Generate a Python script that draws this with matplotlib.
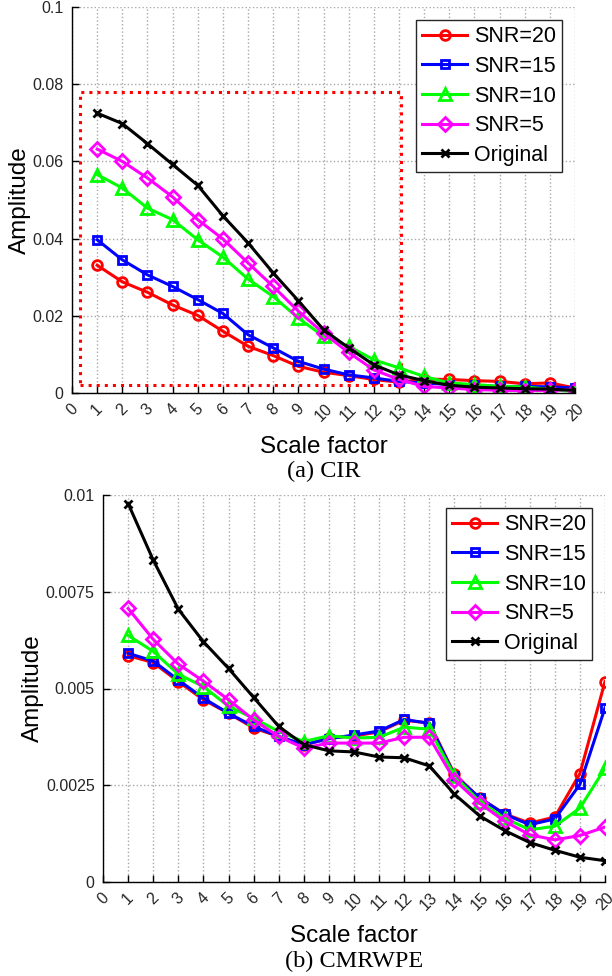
import matplotlib
matplotlib.use('Agg')
import matplotlib.pyplot as plt
from matplotlib.patches import Rectangle

plt.rcParams['font.family'] = ['Liberation Sans', 'DejaVu Sans']

scale = list(range(1, 21))
series_names = ['SNR=20', 'SNR=15', 'SNR=10', 'SNR=5', 'Original']

# (a) CIR
cir_snr20 = [0.0331, 0.0288, 0.0261, 0.0228, 0.0201, 0.0160, 0.0121, 0.0097, 0.0069, 0.0054,
             0.0045, 0.0035, 0.0028, 0.0036, 0.0035, 0.0032, 0.0030, 0.0024, 0.0026, 0.0013]
cir_snr15 = [0.0397, 0.0345, 0.0306, 0.0276, 0.0242, 0.0206, 0.0151, 0.0117, 0.0082, 0.0062,
             0.0047, 0.0039, 0.0030, 0.0026, 0.0022, 0.0020, 0.0017, 0.0017, 0.0016, 0.0013]
cir_snr10 = [0.0566, 0.0531, 0.0479, 0.0449, 0.0397, 0.0352, 0.0295, 0.0250, 0.0194, 0.0147,
             0.0121, 0.0086, 0.0065, 0.0043, 0.0026, 0.0022, 0.0017, 0.0016, 0.0009, 0.0004]
cir_snr5 = [0.0632, 0.0600, 0.0557, 0.0508, 0.0449, 0.0399, 0.0337, 0.0276, 0.0212, 0.0155,
            0.0105, 0.0060, 0.0035, 0.0017, 0.0013, 0.0009, 0.0007, 0.0006, 0.0007, 0.0009]
cir_orig = [0.0725, 0.0698, 0.0646, 0.0592, 0.0538, 0.0459, 0.0389, 0.0311, 0.0239, 0.0164,
            0.0117, 0.0073, 0.0047, 0.0032, 0.0020, 0.0015, 0.0013, 0.0011, 0.0010, 0.0007]

# (b) CMRWPE
cmr_snr20 = [0.00585, 0.00567, 0.00518, 0.00471, 0.00436, 0.00398, 0.00376, 0.00353, 0.00372, 0.00377,
             0.00388, 0.00418, 0.00411, 0.00279, 0.00217, 0.00176, 0.00152, 0.00168, 0.00280, 0.00518]
cmr_snr15 = [0.00591, 0.00571, 0.00522, 0.00475, 0.00436, 0.00402, 0.00376, 0.00355, 0.00370, 0.00380,
             0.00390, 0.00420, 0.00410, 0.00275, 0.00218, 0.00175, 0.00148, 0.00163, 0.00252, 0.00450]
cmr_snr10 = [0.00637, 0.00596, 0.00537, 0.00505, 0.00454, 0.00423, 0.00389, 0.00363, 0.00378, 0.00372,
             0.00374, 0.00400, 0.00395, 0.00275, 0.00208, 0.00165, 0.00135, 0.00144, 0.00191, 0.00294]
cmr_snr5 = [0.00707, 0.00627, 0.00563, 0.00519, 0.00471, 0.00419, 0.00376, 0.00346, 0.00359, 0.00359,
            0.00359, 0.00374, 0.00374, 0.00264, 0.00204, 0.00157, 0.00122, 0.00109, 0.00120, 0.00142]
cmr_orig = [0.00978, 0.00832, 0.00705, 0.00621, 0.00552, 0.00477, 0.00402, 0.00355, 0.00339, 0.00336,
            0.00323, 0.00321, 0.00300, 0.00227, 0.00171, 0.00133, 0.00102, 0.00082, 0.00064, 0.00055]

cir_yticks = [0, 0.02, 0.04, 0.06, 0.08, 0.1]
cir_ylabels = ['0', '0.02', '0.04', '0.06', '0.08', '0.1']
cmr_yticks = [0, 0.0025, 0.005, 0.0075, 0.01]
cmr_ylabels = ['0', '0.0025', '0.005', '0.0075', '0.01']

colors = ['#ff0000', '#0000ff', '#00ff00', '#ff00ff', '#000000']
markers = ['o', 's', '^', 'D', 'x']
msizes = [7, 6, 8, 7, 6]

fig = plt.figure(figsize=(6.12, 9.76), dpi=100)
ax1 = fig.add_axes([72/612, 1-393/976, 503/612, 386/976])
ax2 = fig.add_axes([103/612, 1-882/976, 502/612, 387/976])


def draw(ax, data, yticks, ylabels, ymax):
    for vals, name, c, m, ms in zip(data, series_names, colors, markers, msizes):
        ax.plot(scale, vals, color=c, marker=m, markersize=ms, markerfacecolor='none',
                markeredgewidth=2, linewidth=2.2, label=name)
    ax.set_xlim(0, 20)
    ax.set_ylim(0, ymax)
    ax.set_xticks(range(0, 21))
    ax.set_xticklabels([str(i) for i in range(0, 21)], rotation=45, ha='center', va='top')
    ax.set_yticks(yticks)
    ax.set_yticklabels(ylabels)
    ax.tick_params(direction='in', length=5, width=1, labelsize=11.5, labelcolor='#262626', pad=6)
    ax.grid(True, linestyle=':', color='#a8a8a8', linewidth=1)
    ax.set_axisbelow(True)
    for s in ['top', 'right']:
        ax.spines[s].set_visible(False)
    for s in ['left', 'bottom']:
        ax.spines[s].set_linewidth(1)
    ax.set_xlabel('Scale factor', fontsize=17.5, labelpad=8)
    ax.set_ylabel('Amplitude', fontsize=17.5, labelpad=1)
    leg = ax.legend(loc='upper right', fontsize=15.5, frameon=True, fancybox=False,
                    edgecolor='#262626', framealpha=1, handlelength=2.1, labelspacing=0.4,
                    borderaxespad=0.6, handletextpad=0.3, borderpad=0.3)
    leg.get_frame().set_linewidth(1)


draw(ax1, [cir_snr20, cir_snr15, cir_snr10, cir_snr5, cir_orig], cir_yticks, cir_ylabels, 0.1)
draw(ax2, [cmr_snr20, cmr_snr15, cmr_snr10, cmr_snr5, cmr_orig], cmr_yticks, cmr_ylabels, 0.01)

# zoom region marker on (a)
ax1.add_patch(Rectangle((0.3, 0.002), 12.8, 0.076, fill=False, edgecolor='#ff0000',
                        linestyle=':', linewidth=2.2, zorder=1))

fig.text(323.5/612, 1-471/976, '(a) CIR', ha='center', va='center',
         fontsize=17.5, family=['Liberation Serif', 'DejaVu Serif'])
fig.text(354/612, 1-961/976, '(b) CMRWPE', ha='center', va='center',
         fontsize=17.5, family=['Liberation Serif', 'DejaVu Serif'])

fig.savefig('out.png', dpi=100)
